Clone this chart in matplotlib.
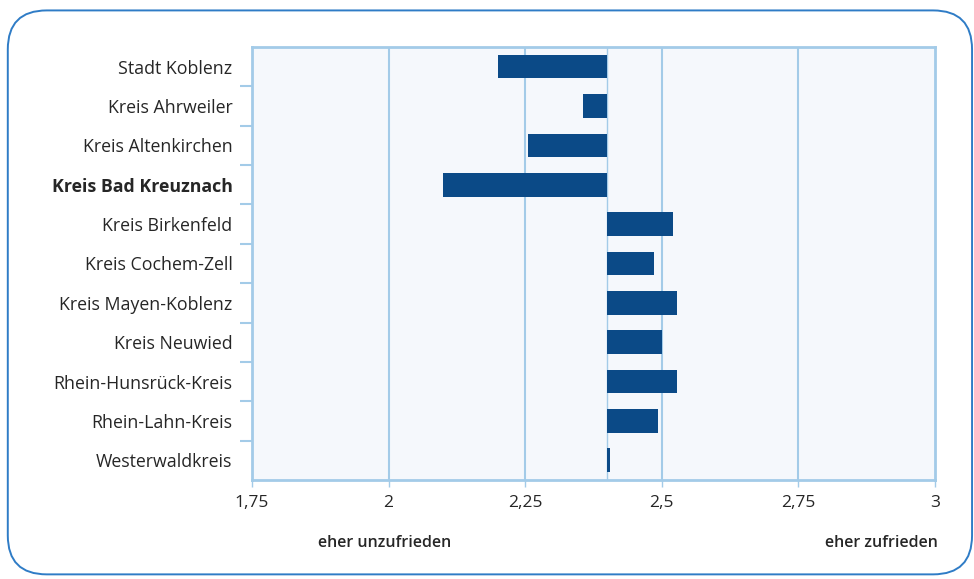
import matplotlib.pyplot as plt
from matplotlib.patches import FancyBboxPatch
from matplotlib.ticker import FixedLocator

plt.rcParams['font.family'] = ['Open Sans', 'DejaVu Sans']

regions = ["Stadt Koblenz", "Kreis Ahrweiler", "Kreis Altenkirchen", "Kreis Bad Kreuznach",
           "Kreis Birkenfeld", "Kreis Cochem-Zell", "Kreis Mayen-Koblenz", "Kreis Neuwied",
           "Rhein-Hunsrück-Kreis", "Rhein-Lahn-Kreis", "Westerwaldkreis"]
values = [2.20, 2.355, 2.255, 2.10, 2.52, 2.485, 2.527, 2.50, 2.528, 2.493, 2.406]
baseline = 2.40
xticks = [1.75, 2, 2.25, 2.5, 2.75, 3]
xticklabels = ["1,75", "2", "2,25", "2,5", "2,75", "3"]

bar_col = '#0b4a87'
grid_col = '#a3cbe8'
text_col = '#262626'

fig = plt.figure(figsize=(9.74, 5.79), dpi=100)
fig.patch.set_facecolor('white')

# rounded frame around everything
frame = FancyBboxPatch((0.008, 0.008), 0.99, 0.974, boxstyle="round,pad=0,rounding_size=0.04",
                       transform=fig.transFigure, fill=False, edgecolor='#2f7cc6', lw=1.4,
                       mutation_aspect=974 / 579)
fig.add_artist(frame)

ax = fig.add_axes([0.2587, 0.171, 0.7013, 0.748])
ax.set_facecolor('#f5f8fc')

ypos = list(range(len(regions)))
widths = [v - baseline for v in values]
ax.barh(ypos, widths, left=baseline, height=0.6, color=bar_col, zorder=3)

ax.set_xlim(1.75, 3)
ax.set_ylim(len(regions) - 0.5, -0.5)
ax.set_xticks(xticks)
ax.set_xticklabels(xticklabels, fontsize=12.5, color=text_col)
for x in xticks[1:-1]:
    ax.axvline(x, color=grid_col, lw=1.5, zorder=1)
ax.axvline(baseline, color=grid_col, lw=1, zorder=2)

ax.set_yticks(ypos)
ax.set_yticklabels(regions, fontsize=12.8, color=text_col)
ax.tick_params(axis='y', length=0, pad=14)
ax.yaxis.set_minor_locator(FixedLocator([i + 0.5 for i in range(len(regions) - 1)]))
ax.tick_params(axis='y', which='minor', length=9, width=1.5, color=grid_col)
ax.tick_params(axis='x', length=5, width=1, color=grid_col, pad=6)
for lbl in ax.get_yticklabels():
    if lbl.get_text() == "Kreis Bad Kreuznach":
        lbl.set_fontweight('bold')

for s in ax.spines.values():
    s.set_color(grid_col)
    s.set_linewidth(2)

fig.text(0.395, 0.062, "eher unzufrieden", ha='center', va='center', fontsize=11.5,
         fontweight='semibold', color=text_col)
fig.text(0.963, 0.062, "eher zufrieden", ha='right', va='center', fontsize=11.5,
         fontweight='semibold', color=text_col)

plt.savefig('out.png', dpi=100)
